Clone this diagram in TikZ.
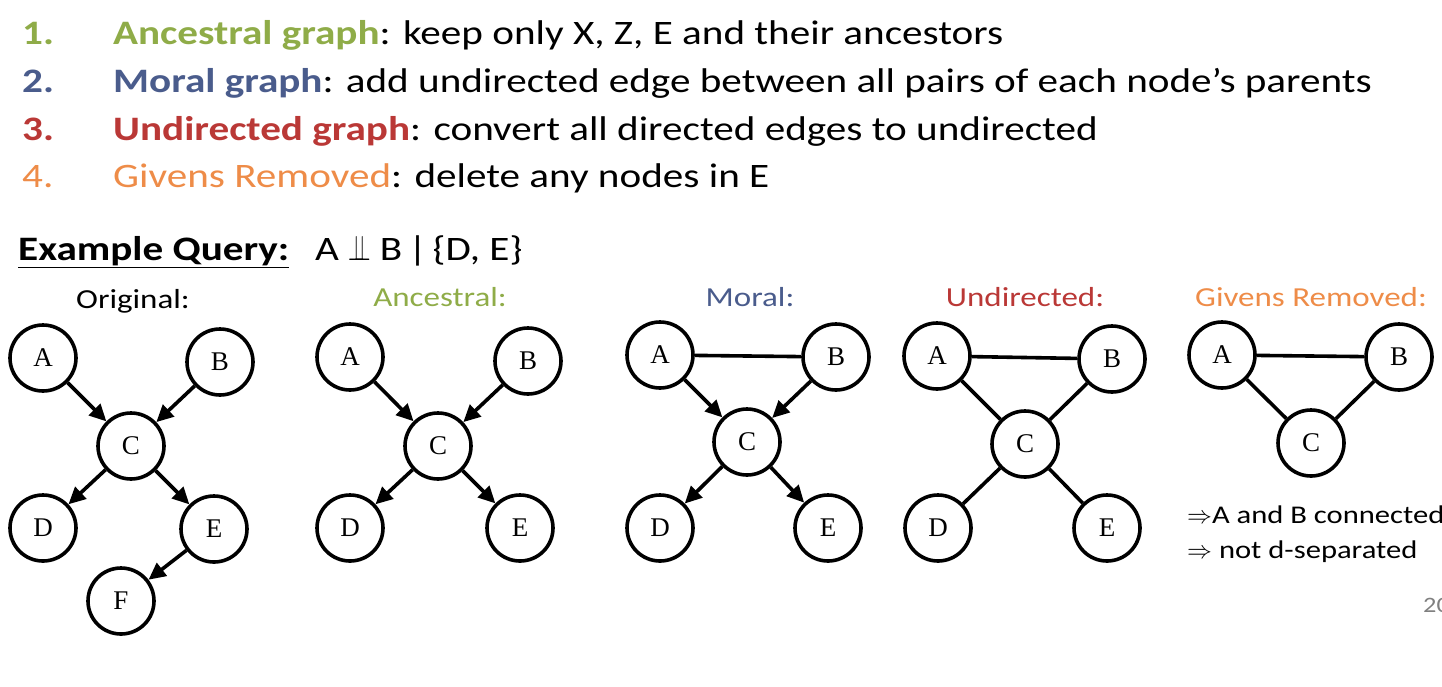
\documentclass[tikz,border=0pt]{standalone}
\usepackage{fontspec}
\setmainfont{Carlito}[FakeStretch=1.2]
\newfontfamily\letterfont{Liberation Serif}
\usetikzlibrary{arrows.meta}
\definecolor{ancgreen}{RGB}{143,172,72}
\definecolor{moralblue}{RGB}{74,92,140}
\definecolor{undirred}{RGB}{186,56,54}
\definecolor{givorange}{RGB}{238,140,72}
\definecolor{pagegray}{RGB}{128,128,128}

\begin{document}
\begin{tikzpicture}[x=1pt,y=-1pt,
    vertex/.style={draw,circle,line width=3.6pt,minimum size=66pt,inner sep=0pt,
        font=\letterfont\fontsize{27}{27}\selectfont},
    dir/.style={line width=3.6pt,-{Triangle[length=17pt,width=16pt]}},
    undir/.style={line width=3.6pt},
    txt/.style={anchor=base west,inner sep=0pt},
    big/.style={font=\fontsize{34.3}{40}\selectfont},
    small/.style={font=\fontsize{27.5}{32}\selectfont},
    caption/.style={anchor=base,inner sep=0pt,small}]
    \useasboundingbox (0,0) rectangle (1442,686);

    % steps
    \node[txt,big,text=ancgreen] (num1) at (22,44) {\textbf{1.}};
    \node[txt,big] (step1) at (113,44) {\textcolor{ancgreen}{\textbf{Ancestral graph}}: keep only X, Z, E and their ancestors};
    \node[txt,big,text=moralblue] (num2) at (22,92) {\textbf{2.}};
    \node[txt,big] (step2) at (113,92) {\textcolor{moralblue}{\textbf{Moral graph}}: add undirected edge between all pairs of each node’s parents};
    \node[txt,big,text=undirred] (num3) at (22,140) {\textbf{3.}};
    \node[txt,big] (step3) at (113,140) {\textcolor{undirred}{\textbf{Undirected graph}}: convert all directed edges to undirected};
    \node[txt,big,text=givorange] (num4) at (22,187) {4.};
    \node[txt,big] (step4) at (113,187) {\textcolor{givorange}{Givens Removed}: delete any nodes in E};

    \node[txt,big] (query) at (18,260) {\underline{\textbf{Example Query:}}};
    \node[txt,big] (indep) at (315,260) {A \scalebox{0.85}[1.45]{$\perp\mkern-9mu\perp$} B\,|\,\{D, E\}};

    % original
    \node[caption] (capO) at (133,308) {Original:};
    \node[vertex] (oA) at (43,358) {A};
    \node[vertex] (oB) at (220,362) {B};
    \node[vertex] (oC) at (131,446) {C};
    \node[vertex] (oD) at (43,528) {D};
    \node[vertex] (oE) at (214,529) {E};
    \node[vertex] (oF) at (121,601) {F};
    \draw[dir] (oA) -- (oC);
    \draw[dir] (oB) -- (oC);
    \draw[dir] (oC) -- (oD);
    \draw[dir] (oC) -- (oE);
    \draw[dir] (oE) -- (oF);

    % ancestral
    \node[caption,text=ancgreen] (capA) at (440,306) {Ancestral:};
    \node[vertex] (aA) at (350,357) {A};
    \node[vertex] (aB) at (528,361) {B};
    \node[vertex] (aC) at (438,446) {C};
    \node[vertex] (aD) at (350,528) {D};
    \node[vertex] (aE) at (520,528) {E};
    \draw[dir] (aA) -- (aC);
    \draw[dir] (aB) -- (aC);
    \draw[dir] (aC) -- (aD);
    \draw[dir] (aC) -- (aE);

    % moral
    \node[caption,text=moralblue] (capM) at (750,306) {Moral:};
    \node[vertex] (mA) at (660,355) {A};
    \node[vertex] (mB) at (836,357) {B};
    \node[vertex] (mC) at (747,442) {C};
    \node[vertex] (mD) at (660,528) {D};
    \node[vertex] (mE) at (828,528) {E};
    \draw[undir] (mA) -- (mB);
    \draw[dir] (mA) -- (mC);
    \draw[dir] (mB) -- (mC);
    \draw[dir] (mC) -- (mD);
    \draw[dir] (mC) -- (mE);

    % undirected
    \node[caption,text=undirred] (capU) at (1025,306) {Undirected:};
    \node[vertex] (uA) at (937,356) {A};
    \node[vertex] (uB) at (1112,359) {B};
    \node[vertex] (uC) at (1025,444) {C};
    \node[vertex] (uD) at (938,528) {D};
    \node[vertex] (uE) at (1107,528) {E};
    \draw[undir] (uA) -- (uB);
    \draw[undir] (uA) -- (uC);
    \draw[undir] (uB) -- (uC);
    \draw[undir] (uC) -- (uD);
    \draw[undir] (uC) -- (uE);

    % givens removed
    \node[caption,text=givorange] (capG) at (1311,306) {Givens Removed:};
    \node[vertex] (gA) at (1222,355) {A};
    \node[vertex] (gB) at (1399,357) {B};
    \node[vertex] (gC) at (1311,443) {C};
    \draw[undir] (gA) -- (gB);
    \draw[undir] (gA) -- (gC);
    \draw[undir] (gB) -- (gC);
    \node[txt,font=\fontsize{25.5}{30}\selectfont] (res1) at (1187,523) {$\Rightarrow$A and B connected};
    \node[txt,font=\fontsize{25.5}{30}\selectfont] (res2) at (1187,558) {$\Rightarrow$ not d-separated};

    \node[txt,font=\fontsize{22}{26}\selectfont,text=pagegray] (page) at (1423,612) {20};
\end{tikzpicture}
\end{document}
